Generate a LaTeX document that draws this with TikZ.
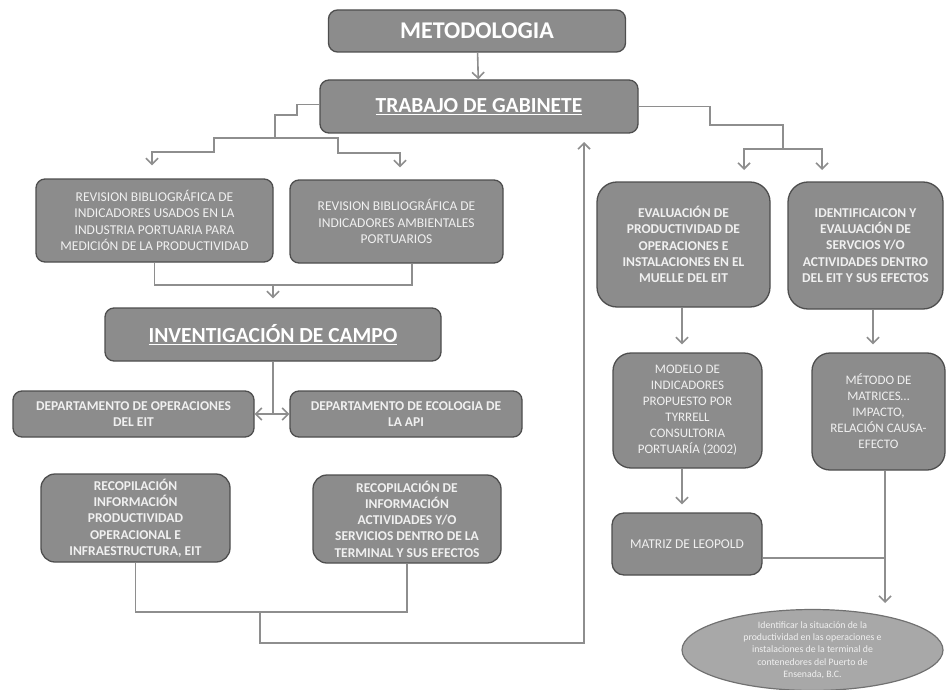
\documentclass[tikz,border=0pt]{standalone}
\usepackage{fontspec}
\setmainfont{Carlito}
\definecolor{metoGris}{HTML}{8C8C8C}
\definecolor{metoBorde}{HTML}{4E4E4E}
\definecolor{metoLinea}{HTML}{8E8E8E}
\definecolor{metoClaro}{HTML}{A8A8A8}
\definecolor{metoTexto}{HTML}{F0F0F0}
\usepackage{tikz}
\usetikzlibrary{
	arrows.meta,
	positioning,
	calc,
	shapes.geometric
}

\begin{document}
\begin{tikzpicture}[x=1pt,y=-1pt,
		caja/.style={draw=metoBorde, line width=1.3pt, fill=metoGris, rounded corners=9pt,
			text=metoTexto, align=center, inner sep=2pt,
			font=\fontsize{13.5}{16.3}\selectfont},
		cajaB/.style={caja, font=\fontsize{13.5}{16.3}\selectfont\bfseries},
		titulo/.style={caja, text=white, font=\fontsize{24}{27}\selectfont\bfseries},
		linea/.style={draw=metoLinea, line width=1.6pt},
		flecha/.style={linea, -{Straight Barb[length=6pt,width=12pt]}},
		doble/.style={linea, {Straight Barb[length=6pt,width=12pt]}-{Straight Barb[length=6pt,width=12pt]}}
	]
		\useasboundingbox (0,0) rectangle (947,690);
		% cajas principales
		\node[titulo, minimum width=297pt, minimum height=42pt] (meto) at (477,31) {METODOLOGIA};
		\node[titulo, minimum width=318pt, minimum height=53pt, font=\fontsize{21.5}{24}\selectfont\bfseries] (trab) at (479,106.5) {\underline{TRABAJO DE GABINETE}};
		\node[caja, minimum width=237pt, minimum height=83pt] (rev1) at (154.5,220.5) {REVISION BIBLIOGRÁFICA DE\\INDICADORES USADOS EN LA\\INDUSTRIA PORTUARIA PARA\\MEDICIÓN DE LA PRODUCTIVIDAD};
		\node[caja, minimum width=213pt, minimum height=83pt] (rev2) at (396.5,221.5) {REVISION BIBLIOGRÁFICA DE\\INDICADORES AMBIENTALES\\PORTUARIOS};
		\node[titulo, minimum width=336pt, minimum height=53pt, font=\fontsize{21.5}{24}\selectfont\bfseries] (inv) at (273,334.5) {\underline{INVENTIGACIÓN DE CAMPO}};
		\node[cajaB, minimum width=241pt, minimum height=46pt] (depop) at (133.5,414) {DEPARTAMENTO DE OPERACIONES\\DEL EIT};
		\node[cajaB, minimum width=232pt, minimum height=46pt] (depeco) at (406,414) {DEPARTAMENTO DE ECOLOGIA DE\\LA API};
		\node[cajaB, minimum width=189pt, minimum height=88pt, rounded corners=14pt] (recop1) at (135.5,518) {RECOPILACIÓN\\INFORMACIÓN\\PRODUCTIVIDAD\\OPERACIONAL E\\INFRAESTRUCTURA, EIT};
		\node[cajaB, minimum width=188pt, minimum height=88pt, rounded corners=14pt] (recop2) at (407,519) {RECOPILACIÓN DE\\INFORMACIÓN\\ACTIVIDADES Y/O\\SERVICIOS DENTRO DE LA\\TERMINAL Y SUS EFECTOS};
		% lado derecho
		\node[cajaB, minimum width=173pt, minimum height=125pt, rounded corners=20pt] (eval) at (683.5,244.5) {EVALUACIÓN DE\\PRODUCTIVIDAD DE\\OPERACIONES E\\INSTALACIONES EN EL\\MUELLE DEL EIT};
		\node[cajaB, minimum width=155pt, minimum height=127pt, rounded corners=20pt] (ident) at (865.5,245.5) {IDENTIFICAICON Y\\EVALUACIÓN DE\\SERVCIOS Y/O\\ACTIVIDADES DENTRO\\DEL EIT Y SUS EFECTOS};
		\node[caja, minimum width=149pt, minimum height=115pt, rounded corners=18pt, font=\fontsize{13}{16}\selectfont] (modelo) at (687.5,410.5) {MODELO DE\\INDICADORES\\PROPUESTO POR\\TYRRELL\\CONSULTORIA\\PORTUARÍA (2002)};
		\node[caja, minimum width=133pt, minimum height=117pt, rounded corners=18pt, font=\fontsize{13}{16}\selectfont] (metodo) at (878.5,411.5) {MÉTODO DE\\MATRICES…\\IMPACTO,\\RELACIÓN CAUSA-\\EFECTO};
		\node[caja, minimum width=150pt, minimum height=62pt, rounded corners=12pt] (matriz) at (687,544) {MATRIZ DE LEOPOLD};
		\node[ellipse, draw=metoBorde!80, line width=1.2pt, fill=metoClaro, text=metoTexto, align=center,
			inner sep=0pt, minimum width=261pt, minimum height=74pt,
			font=\fontsize{9.8}{12.3}\selectfont] (fin) at (812.5,650) {Identificar la situación de la\\productividad en las operaciones e\\instalaciones de la terminal de\\contenedores del Puerto de\\Ensenada, B.C.};
		% puntos de union
		\coordinate (izq) at (275,138);
		\coordinate (der) at (783,149);
		\coordinate (union1) at (273,285);
		\coordinate (union2) at (260,612);
		\coordinate (retorno) at (584,643);
		\coordinate (subida) at (584,142);
		\coordinate (fEval) at (744,170);
		\coordinate (fIdent) at (822,170);
		\coordinate (union3) at (885,558);
		\coordinate (fFin) at (885,603);
		% conectores
		\draw[flecha] (meto) -- (trab);
		\draw[linea] ([yshift=2pt]trab.west) -| (297,115) -| (izq);
		\draw[flecha, shorten >=13pt] (izq) -| (214,152) -| ([xshift=-2.5pt]rev1.north);
		\draw[flecha, shorten >=12pt] (izq) -| (338,153) -| ([xshift=3.5pt]rev2.north);
		\draw[linea] (trab.east) -| (710,125) -| (der);
		\draw[flecha] (der) -| (fEval);
		\draw[flecha] (der) -| (fIdent);
		\draw[linea] (rev1.south) |- ([xshift=15.5pt]rev2.south |- union1) -- ([xshift=15.5pt]rev2.south);
		\draw[flecha, shorten >=9pt] (union1) -- (inv.north);
		\draw[linea] (inv.south) -- (inv.south |- depop.east);
		\draw[doble] (depop.east) -- (depeco.west);
		\draw[linea] (recop1.south) |- (recop2.south |- union2) -- (recop2.south);
		\draw[flecha] (union2) |- (retorno) -- (subida);
		\draw[flecha, shorten >=8pt] ([xshift=-1.5pt]eval.south) -- ([xshift=-5.5pt]modelo.north);
		\draw[flecha, shorten >=8pt] ([xshift=7.5pt]ident.south) -- ([xshift=-5.5pt]metodo.north);
		\draw[flecha, shorten >=8pt] ([xshift=-5.5pt]modelo.south) -- ([xshift=-5pt]matriz.north);
		\draw[linea] ([yshift=-14pt]matriz.east) -| ([xshift=6.5pt]metodo.south);
		\draw[flecha] (union3) -- (fFin);
	\end{tikzpicture}
\end{document}
